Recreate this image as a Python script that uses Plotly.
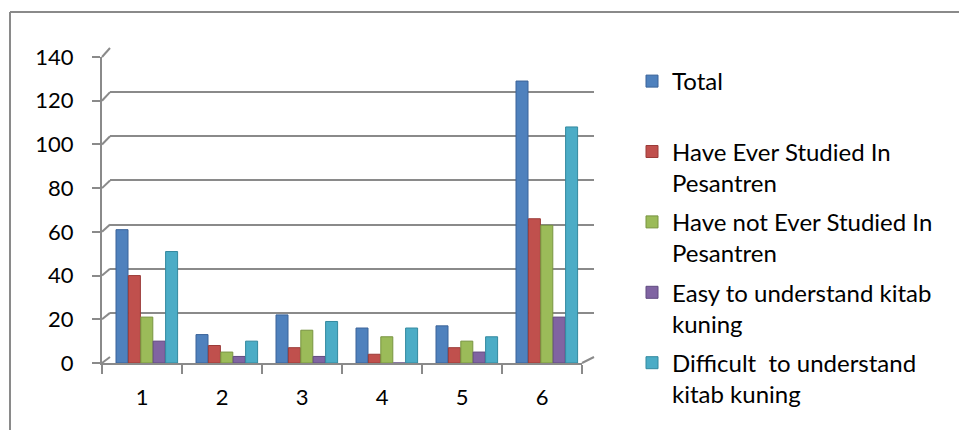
import plotly.graph_objects as go

# ---- data ----
categories = [1, 2, 3, 4, 5, 6]
series_names = [
    "Total<br> ",
    "Have Ever Studied In<br>Pesantren",
    "Have not Ever Studied In<br>Pesantren",
    "Easy to understand kitab<br>kuning",
    "Difficult  to understand<br>kitab kuning",
]
total = [61, 13, 22, 16, 17, 129]
ever_studied = [40, 8, 7, 4, 7, 66]
not_studied = [21, 5, 15, 12, 10, 63]
easy = [10, 3, 3, 0, 5, 21]
difficult = [51, 10, 19, 16, 12, 108]
y_ticks = [0, 20, 40, 60, 80, 100, 120, 140]

colors = ["#4F81BD", "#C0504D", "#9BBB59", "#8064A2", "#4BACC6"]
edge_colors = ["#3A6399", "#9B3B38", "#789440", "#604A80", "#33899F"]
values = [total, ever_studied, not_studied, easy, difficult]

W, H = 959, 430
GRID = "#8a8a8a"
FONT = "Lato"

# pixel geometry (front plane and back wall)
front_left, front_right = 102, 582
front_y0, front_y140 = 363, 57
back_left, back_right = 110, 594
back_y0, back_y140 = 357, 48
YMAX = 140


def px(x):
    return x / W


def py(y):
    return 1 - y / H


fig = go.Figure()

# invisible trace to create back-wall subplot (x/y)
fig.add_trace(go.Scatter(x=[None], y=[None], xaxis="x", yaxis="y",
                         showlegend=False, hoverinfo="skip"))

bar_w = 0.15
step = 0.155
start = -0.325
for i, (name, vals, col, ecol) in enumerate(zip(series_names, values, colors, edge_colors)):
    fig.add_trace(go.Bar(
        x=categories, y=vals, name=name, xaxis="x2", yaxis="y2",
        marker=dict(color=col, line=dict(width=1, color=ecol)),
        width=bar_w, offset=start + i * step,
        legendgroup=str(i),
    ))

shapes = []
# outer frame
shapes.append(dict(type="line", xref="paper", yref="paper",
                   x0=px(10), y0=py(12), x1=1, y1=py(12),
                   line=dict(color=GRID, width=2)))
shapes.append(dict(type="line", xref="paper", yref="paper",
                   x0=px(10), y0=py(12), x1=px(10), y1=0,
                   line=dict(color=GRID, width=2)))


def front_y(v):
    return front_y0 - v / YMAX * (front_y0 - front_y140)


def back_y(v):
    return back_y0 - v / YMAX * (back_y0 - back_y140)


# 3D diagonal connectors from front axis to back wall
for v in y_ticks:
    shapes.append(dict(type="line", xref="paper", yref="paper",
                       x0=px(front_left), y0=py(front_y(v)),
                       x1=px(back_left), y1=py(back_y(v)),
                       line=dict(color=GRID, width=2)))
# floor right edge
shapes.append(dict(type="line", xref="paper", yref="paper",
                   x0=px(front_right), y0=py(front_y(0)),
                   x1=px(back_right), y1=py(back_y(0)),
                   line=dict(color=GRID, width=2)))

fig.update_layout(
    width=W, height=H,
    margin=dict(l=0, r=0, t=0, b=0, autoexpand=False),
    paper_bgcolor="white", plot_bgcolor="rgba(0,0,0,0)",
    font=dict(family=FONT, size=22, color="#000000"),
    barmode="overlay",
    showlegend=True,
    legend=dict(x=px(632), y=py(59), xanchor="left", yanchor="top",
                valign="top", tracegroupgap=5,
                font=dict(family=FONT, size=24, color="#000000"),
                bgcolor="rgba(0,0,0,0)"),
    # back wall
    xaxis=dict(domain=[px(back_left), px(back_right)], range=[0, 1],
               showgrid=False, showticklabels=False, zeroline=False,
               showline=False, anchor="y"),
    yaxis=dict(domain=[py(back_y0), py(back_y140)], range=[0, YMAX],
               tickvals=y_ticks, showgrid=True, gridcolor=GRID, gridwidth=2,
               showticklabels=False, zeroline=False, showline=False,
               anchor="x"),
    # front plane
    xaxis2=dict(domain=[px(front_left), px(front_right)],
                range=[0.5, 6.5], tickvals=categories,
                ticktext=[str(c) for c in categories],
                ticks="", showgrid=False, zeroline=False,
                showline=True, linecolor=GRID, linewidth=2,
                anchor="y2", ticklabelstandoff=14,
                tickfont=dict(family=FONT, size=22, color="#000000"),
                minor=dict(tickvals=[c - 0.5 for c in categories] + [categories[-1] + 0.5],
                           ticks="outside", ticklen=9, tickcolor=GRID,
                           tickwidth=2, showgrid=False)),
    yaxis2=dict(domain=[py(front_y0), py(front_y140)], range=[0, YMAX],
                tickvals=y_ticks, ticks="outside", ticklen=8,
                tickcolor=GRID, tickwidth=2,
                showgrid=False, zeroline=False,
                showline=True, linecolor=GRID, linewidth=2,
                anchor="x2", ticklabelstandoff=14,
                tickfont=dict(family=FONT, size=22, color="#000000")),
    shapes=shapes,
)

fig.write_html("out.html")
